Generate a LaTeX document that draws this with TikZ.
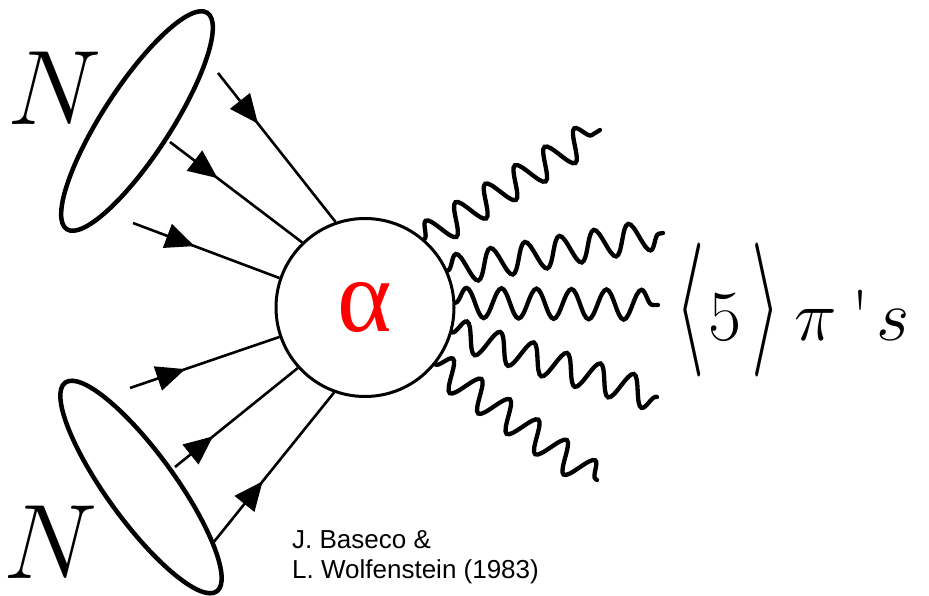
\RequirePackage{fix-cm}
\documentclass[tikz,border=0pt]{standalone}
\usepackage{graphicx}
\usepackage{fontspec}
\newfontfamily\arialfont{Liberation Sans}
\newfontfamily\alphafont{Liberation Serif}
\usetikzlibrary{shapes.geometric,decorations.markings,decorations.pathmorphing,arrows.meta}
\newcommand{\glyphat}[2]{\rlap{\kern#1pt #2}}
\begin{document}
\begin{tikzpicture}[x=1pt,y=-1pt,
  fermion/.style={line width=2.6pt, postaction={decorate},
    decoration={markings, mark=at position #1 with {\arrow{Triangle[length=29pt,width=25pt]}}}},
  photon/.style={line width=4.3pt, line cap=round, decorate,
    decoration={snake, segment length=35pt, amplitude=15pt}},
  nucleus/.style={draw, line width=4.5pt, ellipse, minimum width=258pt, minimum height=68pt, inner sep=0pt},
  blob/.style={draw, circle, line width=3pt, minimum size=178pt, inner sep=0pt, fill=white},
  bigN/.style={inner sep=0pt, font=\fontsize{106}{106}\selectfont},
  cite/.style={anchor=base west, inner sep=0pt, font=\arialfont\fontsize{26}{30}\selectfont},
]
\useasboundingbox (0,0) rectangle (929,596);
% nuclei
\node[nucleus, rotate=57] (n1) at (137,121) {};
\node[nucleus, rotate=-54] (n2) at (141,487) {};
\node[bigN, anchor=base] (N1) at (55,125) {$N$};
\node[bigN, anchor=base] (N2) at (51,578) {$N$};
% central blob
\node[blob] (c) at (365,307.5) {\alphafont\fontsize{104}{104}\selectfont\color{red}\raisebox{-4pt}{α}};
% incoming lines
\coordinate (s1) at (218,73);
\coordinate (s2) at (170,142);
\coordinate (s3) at (133,223);
\coordinate (s4) at (130,388);
\coordinate (s5) at (175,467);
\coordinate (s6) at (213,543);
\draw[fermion=0.34] (s1) -- (c.109);
\draw[fermion=0.36] (s2) -- (c.134);
\draw[fermion=0.42] (s3) -- (c.161);
\draw[fermion=0.37] (s4) -- (c.199.7);
\draw[fermion=0.31] (s5) -- (c.222);
\draw[fermion=0.41] (s6) -- (c.250);
% outgoing pions
\coordinate (w1) at (600,130);
\coordinate (w2) at (663,233);
\coordinate (w3) at (658,305);
\coordinate (w4) at (657,397);
\coordinate (w5) at (597,480);
\draw[photon] (c.49.8) -- (w1);
\draw[photon] (c.24.9) -- (w2);
\draw[photon] (c.3) -- (w3);
\draw[photon] (c.-16.7) -- (w4);
\draw[photon] (c.-39.2) -- (w5);
% label
\node[anchor=base west, inner sep=0pt, font=\fontsize{72}{72}\selectfont] (pis) at (675,340)
  {\glyphat{0}{\raisebox{-3.5pt}{\scalebox{1.05}[1.86]{$\langle$}}}%
   \glyphat{33}{$5$}%
   \glyphat{76}{\raisebox{-3.5pt}{\scalebox{1.05}[1.86]{$\rangle$}}}%
   \glyphat{119}{$\pi$}%
   \glyphat{176}{\textquotesingle}%
   \glyphat{201}{$s$}%
   \kern236pt};
\node[cite] (cite1) at (292,548) {J. Baseco \&};
\node[cite] (cite2) at (292,578) {L. Wolfenstein (1983)};
\end{tikzpicture}
\end{document}
